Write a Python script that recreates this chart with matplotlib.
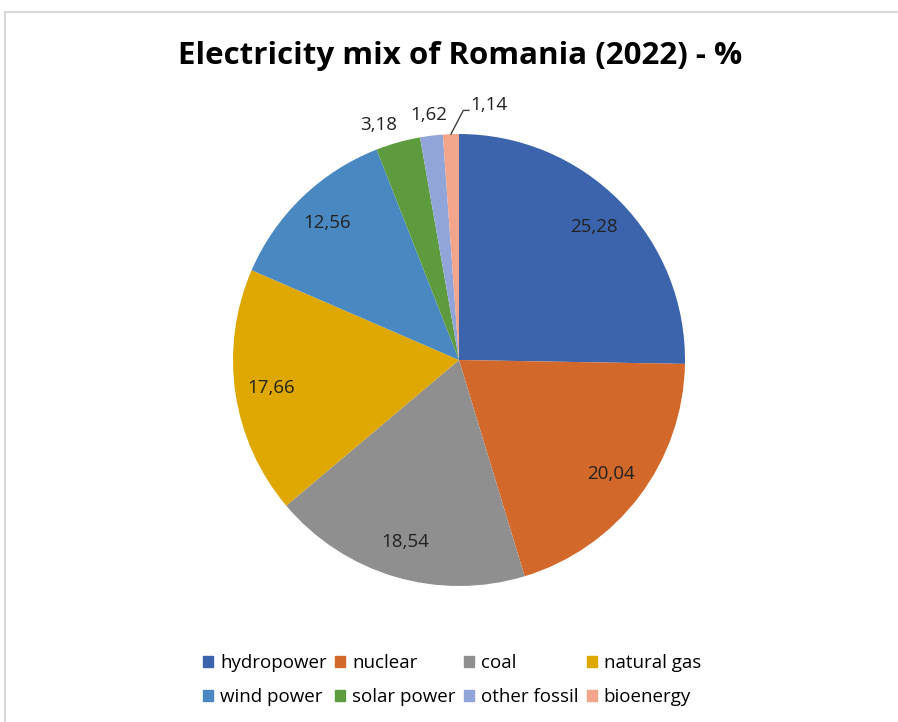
import matplotlib.pyplot as plt
import matplotlib.patches as mpatches
import numpy as np

plt.rcParams['font.family'] = ['Open Sans', 'DejaVu Sans']

sources = ['hydropower', 'nuclear', 'coal', 'natural gas',
           'wind power', 'solar power', 'other fossil', 'bioenergy']
shares = [25.28, 20.04, 18.54, 17.66, 12.56, 3.18, 1.62, 1.14]
labels = ['25,28', '20,04', '18,54', '17,66', '12,56', '3,18', '1,62', '1,14']
colors = ['#3B64AD', '#D2692A', '#8F8F8F', '#DFA800',
          '#4A88C2', '#5E9A3E', '#91A5D9', '#F2A58A']

W, H = 898, 722
fig = plt.figure(figsize=(W / 100, H / 100), dpi=100)

# chart frame (excel style border, cut off at right/bottom)
fig.patches.append(mpatches.Rectangle((5 / W, -0.01), 1.0, 1 - 12 / H + 0.01,
                                      transform=fig.transFigure, fill=False,
                                      edgecolor='#D0D0D0', lw=1.2))

cx, cy, R = 459, 360, 226
ax = fig.add_axes([(cx - R) / W, (H - cy - R) / H, 2 * R / W, 2 * R / H])
wedges, _ = ax.pie(shares, colors=colors, startangle=90, counterclock=False,
                   radius=1, wedgeprops=dict(linewidth=0))
ax.set_xlim(-1, 1)
ax.set_ylim(-1, 1)
ax.set_aspect('equal')

fs = 13.5
for i, w in enumerate(wedges):
    mid = np.deg2rad((w.theta1 + w.theta2) / 2)
    if i < 5:
        r = 0.84
        ax.text(r * np.cos(mid), r * np.sin(mid), labels[i], ha='center',
                va='center', fontsize=fs, color='#222222')
    elif i == 5:
        r = 1.08
        ax.text(r * np.cos(mid) + 0.02, r * np.sin(mid), labels[i], ha='right',
                va='center', fontsize=fs, color='#222222', clip_on=False)
    elif i == 6:
        r = 1.08
        ax.text(r * np.cos(mid), r * np.sin(mid) + 0.01, labels[i], ha='center',
                va='center', fontsize=fs, color='#222222', clip_on=False)
    else:
        x0, y0 = np.cos(mid), np.sin(mid)
        xs = [x0 - 0.0, x0 + 0.055, x0 + 0.08]
        ys = [y0, y0 + 0.105, y0 + 0.105]
        ax.plot(xs, ys, color='#404040', lw=1, clip_on=False)
        ax.text(xs[-1] + 0.005, ys[-1] + 0.022, labels[i], ha='left',
                va='center', fontsize=fs, color='#222222', clip_on=False)

fig.text(460 / W, 1 - 56 / H, 'Electricity mix of Romania (2022) - %',
         ha='center', va='center', fontsize=22.5, fontweight='bold')

handles = [mpatches.Patch(color=c, label=s) for c, s in zip(colors, sources)]
# legend fills column by column, so interleave to get row order
order = [0, 4, 1, 5, 2, 6, 3, 7]
fig.legend(handles=[handles[k] for k in order], ncol=4, loc='center',
           bbox_to_anchor=(452 / W, 1 - 680 / H), frameon=False,
           fontsize=13.5, handlelength=0.55, handleheight=0.55,
           handletextpad=0.35, columnspacing=0.45, labelspacing=0.85)

fig.savefig('out.png', dpi=100)
